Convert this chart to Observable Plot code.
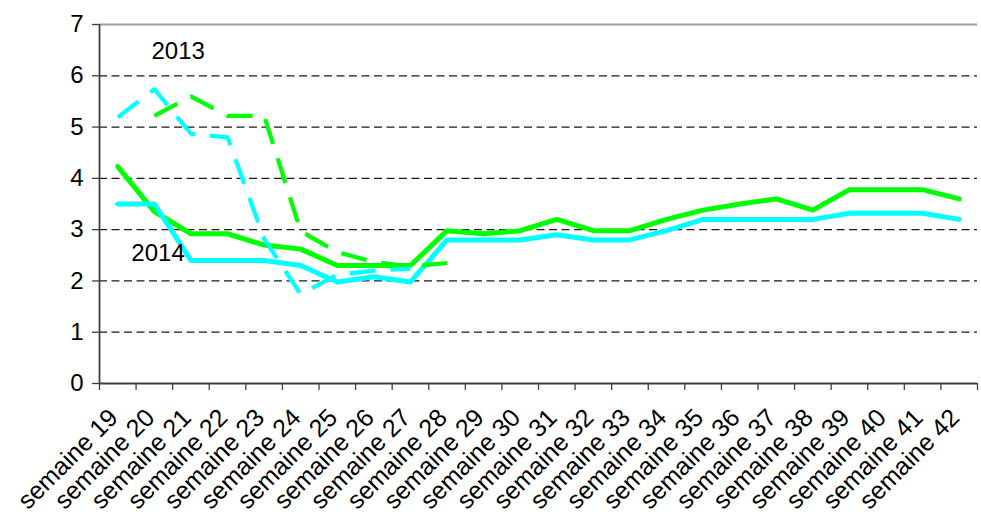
<!DOCTYPE html>
<html>
<head>
<meta charset="utf-8">
<script src="https://cdn.jsdelivr.net/npm/d3@7"></script>
<script src="https://cdn.jsdelivr.net/npm/@observablehq/plot@0.6"></script>
<style>
  html, body { margin: 0; padding: 0; background: #fff; }
  #chart svg { display: block; }
</style>
</head>
<body>
<div id="chart"></div>
<script>
const weeks = ["semaine 19","semaine 20","semaine 21","semaine 22","semaine 23","semaine 24","semaine 25","semaine 26","semaine 27","semaine 28","semaine 29","semaine 30","semaine 31","semaine 32","semaine 33","semaine 34","semaine 35","semaine 36","semaine 37","semaine 38","semaine 39","semaine 40","semaine 41","semaine 42"];
const green2014 = [4.23, 3.35, 2.92, 2.92, 2.7, 2.62, 2.3, 2.3, 2.3, 2.98, 2.92, 2.98, 3.2, 2.98, 2.98, 3.2, 3.38, 3.5, 3.6, 3.38, 3.78, 3.78, 3.78, 3.6];
const cyan2014 = [3.5, 3.5, 2.4, 2.4, 2.4, 2.3, 1.98, 2.08, 1.98, 2.8, 2.8, 2.8, 2.9, 2.8, 2.8, 2.98, 3.2, 3.2, 3.2, 3.2, 3.32, 3.32, 3.32, 3.2];
const green2013 = [null, 5.22, 5.6, 5.22, 5.22, 2.97, 2.56, 2.37, 2.28, 2.35, null, null, null, null, null, null, null, null, null, null, null, null, null, null];
const cyan2013 = [5.19, 5.74, 4.87, 4.8, 2.82, 1.74, 2.12, 2.2, 2.24, null, null, null, null, null, null, null, null, null, null, null, null, null, null, null];
const yTicks = [0, 1, 2, 3, 4, 5, 6, 7];
const annotations = [
  {label: "2013", week: 1.65, value: 6.48},
  {label: "2014", week: 1.10, value: 2.54}
];

const GREEN = "#00ff00";
const CYAN = "#00ffff";
const FONT = "Liberation Sans, Arial, sans-serif";

const rows = (vals) => vals.map((v, i) => ({i, v})).filter(d => d.v != null);
const idx = d3.range(weeks.length);
const bounds = d3.range(weeks.length + 1).map(k => k - 0.5);

const chart = Plot.plot({
  width: 981,
  height: 514,
  marginLeft: 99,
  marginRight: 4,
  marginTop: 24,
  marginBottom: 131,
  style: {fontFamily: FONT, fontSize: "24px", color: "#000", background: "#fff"},
  x: {type: "linear", domain: [-0.5, weeks.length - 0.5], axis: null},
  y: {domain: [0, 7], axis: null},
  marks: [
    Plot.ruleY(yTicks.filter(t => t > 0 && t < 7), {stroke: "#1a1a1a", strokeWidth: 1.2, strokeDasharray: "8,4.5"}),
    Plot.ruleY([7], {stroke: "#a0a0a0", strokeWidth: 1.8}),
    Plot.axisY({ticks: yTicks, tickSize: 7, tickPadding: 9, fontSize: 24, stroke: "#404040", strokeWidth: 1.3, tickFormat: d => String(d)}),
    Plot.axisX({ticks: bounds, tickSize: 7, tickFormat: () => "", stroke: "#404040", strokeWidth: 1.3}),
    Plot.axisX({ticks: idx, tickSize: 0, tickRotate: -45, tickPadding: 30, dx: -4, fontSize: 25, tickFormat: i => weeks[i]}),
    Plot.ruleX([-0.5], {stroke: "#404040", strokeWidth: 1.8}),
    Plot.ruleY([0], {stroke: "#404040", strokeWidth: 1.8}),
    Plot.line(rows(green2014), {x: "i", y: "v", stroke: GREEN, strokeWidth: 5}),
    Plot.line(rows(cyan2014), {x: "i", y: "v", stroke: CYAN, strokeWidth: 5}),
    Plot.line(rows(green2013), {x: "i", y: "v", stroke: GREEN, strokeWidth: 4.2, strokeDasharray: "26,15", strokeLinecap: "butt", strokeLinejoin: "miter"}),
    Plot.line(rows(cyan2013), {x: "i", y: "v", stroke: CYAN, strokeWidth: 4.2, strokeDasharray: "26,15", strokeLinecap: "butt", strokeLinejoin: "miter"}),
    Plot.text(annotations, {x: "week", y: "value", text: "label", fontSize: 24, fill: "#000"})
  ]
});
document.getElementById("chart").appendChild(chart);
</script>
</body>
</html>
